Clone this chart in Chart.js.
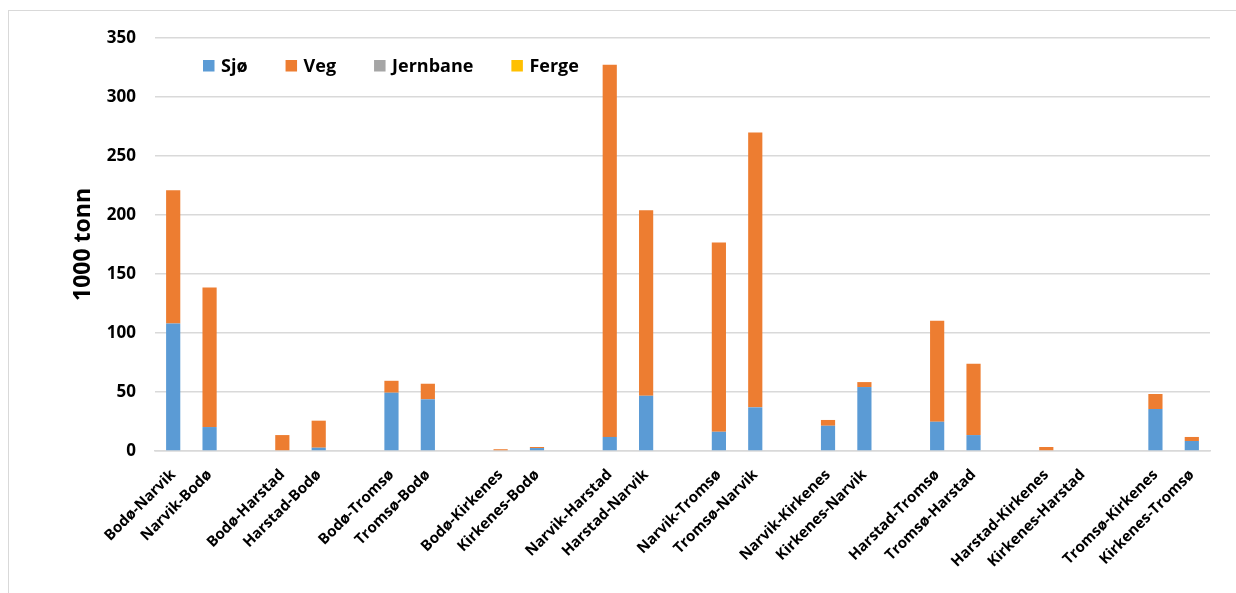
<!DOCTYPE html>
<html>
<head>
<meta charset="utf-8">
<script src="https://cdn.jsdelivr.net/npm/chart.js@4.4.0/dist/chart.umd.min.js"></script>
<style>
  html, body { margin: 0; padding: 0; background: #fff; overflow: hidden; }
  #wrap { position: relative; width: 1236px; height: 593px; }
  #frame { position: absolute; left: 8px; top: 10px; width: 1240px; height: 600px;
           border-top: 1.5px solid #D9D9D9; border-left: 1.5px solid #D9D9D9; box-sizing: border-box; }
  canvas { position: absolute; left: 0; top: 0; }
</style>
</head>
<body>
<div id="wrap">
  <div id="frame"></div>
  <canvas id="c" width="1236" height="593"></canvas>
</div>
<script>
const categories = [
  'Bodø-Narvik','Narvik-Bodø','',
  'Bodø-Harstad','Harstad-Bodø','',
  'Bodø-Tromsø','Tromsø-Bodø','',
  'Bodø-Kirkenes','Kirkenes-Bodø','',
  'Narvik-Harstad','Harstad-Narvik','',
  'Narvik-Tromsø','Tromsø-Narvik','',
  'Narvik-Kirkenes','Kirkenes-Narvik','',
  'Harstad-Tromsø','Tromsø-Harstad','',
  'Harstad-Kirkenes','Kirkenes-Harstad','',
  'Tromsø-Kirkenes','Kirkenes-Tromsø'
];
const sjo = [108.1, 20.3, null, 0, 2.8, null, 49.4, 43.8, null, 0, 2.5, null, 11.9, 46.8, null, 16.3, 37.0, null, 21.4, 54.2, null, 24.8, 13.5, null, 0, 0, null, 35.6, 8.5];
const veg = [112.9, 118.3, null, 13.5, 22.9, null, 10.1, 13.2, null, 1.5, 0.9, null, 315.5, 157.3, null, 160.4, 232.9, null, 4.9, 4.2, null, 85.5, 60.4, null, 3.4, 0, null, 12.7, 3.4];
const jernbane = [0, 0, null, 0, 0, null, 0, 0, null, 0, 0, null, 0, 0, null, 0, 0, null, 0, 0, null, 0, 0, null, 0, 0, null, 0, 0];
const ferge = [0, 0, null, 0, 0, null, 0, 0, null, 0, 0, null, 0, 0, null, 0, 0, null, 0, 0, null, 0, 0, null, 0, 0, null, 0, 0];
const seriesNames = ['Sjø', 'Veg', 'Jernbane', 'Ferge'];
const seriesColors = ['#5B9BD5', '#ED7D31', '#A5A5A5', '#FFC000'];
const yTicks = [0, 50, 100, 150, 200, 250, 300, 350];

const FONT = "'Open Sans', 'DejaVu Sans', sans-serif";

const legendPlugin = {
  id: 'innerLegend',
  afterDraw(chart) {
    const ctx = chart.ctx;
    const area = chart.chartArea;
    ctx.save();
    ctx.font = "bold 18px " + FONT;
    ctx.textBaseline = 'middle';
    ctx.textAlign = 'left';
    let x = area.left + 48;
    const y = 65.5;
    chart.data.datasets.forEach(ds => {
      ctx.fillStyle = ds.backgroundColor;
      ctx.fillRect(x, y - 5.5, 11.5, 11.5);
      x += 11.5 + 6.5;
      ctx.fillStyle = '#000';
      ctx.fillText(ds.label, x, y + 1);
      x += ctx.measureText(ds.label).width + 38;
    });
    ctx.restore();
  }
};

const datasets = [sjo, veg, jernbane, ferge].map((d, i) => ({
  label: seriesNames[i],
  data: d,
  backgroundColor: seriesColors[i],
  borderWidth: 0,
  barPercentage: 0.39,
  categoryPercentage: 1.0
}));

new Chart(document.getElementById('c'), {
  type: 'bar',
  data: { labels: categories, datasets },
  plugins: [legendPlugin],
  options: {
    responsive: false,
    animation: false,
    devicePixelRatio: 1,
    layout: { padding: { left: 0, right: 26, top: 38, bottom: 0 } },
    plugins: { legend: { display: false }, tooltip: { enabled: false } },
    scales: {
      x: {
        stacked: true,
        grid: { display: false, drawTicks: false },
        border: { display: true, color: '#D9D9D9', width: 1.5 },
        ticks: {
          autoSkip: false, maxRotation: 45, minRotation: 45, padding: 15,
          color: '#000', font: { family: FONT, size: 15, weight: 'bold' }
        },
        afterFit(scale) { scale.height = 142; }
      },
      y: {
        stacked: true,
        min: 0, max: 350,
        afterBuildTicks(scale) { scale.ticks = yTicks.map(v => ({ value: v })); },
        grid: { color: '#D9D9D9', lineWidth: 1.5, drawTicks: false },
        border: { display: false },
        ticks: { padding: 19, color: '#000', font: { family: FONT, size: 17, weight: 'bold' } },
        title: {
          display: true, text: '1000 tonn', color: '#000',
          font: { family: FONT, size: 23, weight: 'bold' },
          padding: { top: 70, bottom: 0 }
        },
        afterFit(scale) { scale.width = 155; }
      }
    }
  }
});
</script>
</body>
</html>
